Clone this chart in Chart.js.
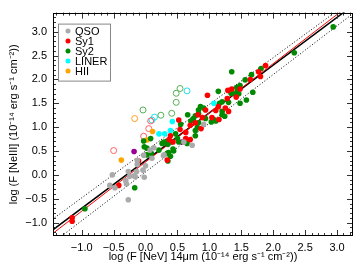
<!DOCTYPE html>
<html>
<head>
<meta charset="utf-8">
<script src="https://cdn.jsdelivr.net/npm/chart.js@4"></script>
<style>
html, body { margin: 0; padding: 0; background: #fff; }
</style>
</head>
<body>
<canvas id="myChart" width="357" height="267"></canvas>
<script>
// tick labels
const xTicks = [-1.0, -0.5, 0.0, 0.5, 1.0, 1.5, 2.0, 2.5, 3.0];
const yTicks = [-1.0, -0.5, 0.0, 0.5, 1.0, 1.5, 2.0, 2.5, 3.0];

// filled points [logF NeV, logF NeIII]
const qso = [[-0.52, 0.00], [-0.27, 0.07], [-0.18, -0.02], [-0.56, -0.22], [-0.48, -0.27], [-0.30, -0.19],
  [-0.31, -0.12], [-0.25, -0.03], [-0.27, -0.52], [0.13, 0.57], [0.29, 0.42], [-0.03, 0.41], [-0.13, 0.30],
  [0.00, 0.19], [-0.04, 0.10], [-0.14, 0.07], [-0.02, -0.05], [0.07, 0.52], [0.10, 0.35], [-0.13, 0.22],
  [0.28, 0.40], [0.60, 0.69], [0.73, 0.62], [0.91, 1.06], [-0.16, -0.04]];
const sy1 = [[-1.15, -0.90], [-1.15, -0.97], [-0.42, -0.22], [-0.11, 0.29], [0.34, 0.31], [0.52, 1.15],
  [0.39, 0.82], [0.54, 0.95], [0.63, 0.89], [0.70, 1.04], [0.78, 1.09], [0.37, 0.74], [0.43, 0.69],
  [0.63, 0.76], [0.70, 0.74], [0.82, 1.26], [0.89, 1.20], [1.04, 1.20], [1.15, 1.16], [1.30, 1.33],
  [0.87, 0.97], [0.94, 1.36], [1.10, 1.35], [1.14, 1.43], [1.25, 1.40], [1.28, 1.60], [1.42, 1.63],
  [1.29, 1.77], [1.35, 1.80], [0.97, 1.67], [1.64, 2.00], [1.48, 1.80], [1.77, 2.16], [1.80, 2.06], [1.88, 2.29]];
const sy2 = [[-0.95, -0.71], [-0.17, -0.27], [0.66, 1.26], [0.75, 1.18], [0.78, 1.24], [0.83, 1.28],
  [0.47, 0.86], [0.55, 1.06], [0.71, 1.13], [0.81, 0.99], [-0.03, 0.71], [0.08, 0.76], [0.26, 0.66],
  [0.29, 0.69], [0.34, 0.71], [0.35, 0.64], [0.40, 0.69], [0.50, 0.76], [0.52, 0.69], [0.65, 0.66],
  [0.02, 0.56], [0.21, 0.52], [0.36, 0.47], [0.44, 0.50], [0.39, 0.39], [0.09, 0.45], [0.35, 0.29],
  [-0.02, 0.59], [0.02, 0.42], [0.34, 0.45], [0.43, 0.54], [1.35, 2.16], [1.81, 2.23], [1.66, 2.10],
  [1.56, 1.99], [1.68, 1.73], [1.48, 1.87], [1.14, 1.75], [1.34, 1.71], [1.40, 1.70], [1.43, 1.73],
  [1.46, 1.70], [1.20, 1.53], [1.16, 1.50], [1.30, 1.52], [1.58, 1.57], [1.48, 1.50], [0.86, 1.43],
  [0.91, 1.40], [0.83, 1.36], [1.20, 1.33], [0.94, 1.18], [1.07, 1.16], [1.10, 1.13], [1.03, 1.11],
  [1.20, 1.26], [1.24, 1.23], [0.83, 1.09], [0.78, 0.93], [0.78, 0.82], [2.94, 3.10], [2.33, 2.56], [1.43, 1.83]];
const liner = [[0.42, 1.12], [0.21, 0.86], [0.30, 0.86], [0.39, 0.93], [1.07, 1.50]];
const hii = [[-0.38, 0.31], [0.11, 0.91], [0.02, 0.73]];
const other = [[-0.18, 0.49], [0.57, 0.69]];

// open symbols
const sy1Open = [[-0.50, 0.51], [0.08, 1.13], [0.05, 0.97], [-0.03, 0.81]];
const sy2Open = [[-0.04, 1.36], [0.24, 1.25], [0.41, 1.29], [0.48, 1.52], [0.48, 1.71], [0.54, 1.81]];
const linerOpen = [[0.14, 1.21], [0.65, 1.76], [0.10, 1.15]];
const hiiOpen = [[-0.17, 1.18]];

// fit lines (end points)
const fitBlack = [[-1.5, -1.20], [3.3, 3.60]];
const fitRed = [[-1.5, -1.275], [3.3, 3.67]];
const bandUp = [[-1.5, -0.97], [3.3, 3.73]];
const bandLow = [[-1.5, -1.47], [3.3, 3.43]];

const legendLabels = ['QSO', 'Sy1', 'Sy2', 'LINER', 'HII'];
const legendColors = ['#aaaaaa', '#ff0000', '#008a00', '#00ffff', '#ffa500'];

const FONT = '"Liberation Sans", Arial, Helvetica, sans-serif';
const toXY = arr => arr.map(p => ({x: p[0], y: p[1]}));
const fmt = v => v.toFixed(1).replace('-', '\u2212');

const pts = (data, color) => ({
    data: toXY(data), backgroundColor: color, borderColor: color, borderWidth: 0,
    pointRadius: 2.8, pointHoverRadius: 2.8
});
const openPts = (data, color) => ({
    data: toXY(data), backgroundColor: 'rgba(0,0,0,0)', borderColor: color, borderWidth: 1,
    pointRadius: 3, pointHoverRadius: 3
});
const line = (data, color, width, dash) => ({
    data: toXY(data), showLine: true, borderColor: color, borderWidth: width,
    borderDash: dash, pointRadius: 0, fill: false
});

const frameTicks = {
    id: 'frameTicks',
    afterDatasetsDraw(chart) {
        const {ctx, chartArea: a, scales: {x, y}} = chart;
        ctx.save();
        ctx.strokeStyle = '#333';
        ctx.lineWidth = 1;
        ctx.beginPath();
        for (let i = -15; i <= 33; i++) {
            const len = i % 5 === 0 ? 6 : 3;
            const px = Math.round(x.getPixelForValue(i / 10)) + 0.5;
            if (px > a.left + 1 && px < a.right - 1) {
                ctx.moveTo(px, a.bottom); ctx.lineTo(px, a.bottom - len);
                ctx.moveTo(px, a.top); ctx.lineTo(px, a.top + len);
            }
            const py = Math.round(y.getPixelForValue(i / 10)) + 0.5;
            if (py > a.top + 1 && py < a.bottom - 1) {
                ctx.moveTo(a.left, py); ctx.lineTo(a.left + len, py);
                ctx.moveTo(a.right, py); ctx.lineTo(a.right - len, py);
            }
        }
        ctx.stroke();
        ctx.strokeStyle = '#000';
        ctx.strokeRect(Math.round(a.left) + 0.5, Math.round(a.top) + 0.5,
            Math.round(a.right - a.left) - 1, Math.round(a.bottom - a.top) - 1);
        ctx.restore();
    },
    afterDraw(chart) {
        const {ctx, chartArea: a} = chart;
        const bx = a.left + 5, by = a.top + 11;
        ctx.save();
        ctx.fillStyle = '#fff';
        ctx.fillRect(bx, by, 52, 57);
        ctx.strokeStyle = '#888';
        ctx.lineWidth = 1;
        ctx.strokeRect(bx + 0.5, by + 0.5, 52, 57);
        ctx.font = '11px ' + FONT;
        ctx.textBaseline = 'middle';
        legendLabels.forEach((lab, i) => {
            const cy = by + 7.5 + i * 10;
            ctx.fillStyle = legendColors[i];
            ctx.beginPath();
            ctx.arc(bx + 10, cy, 2.5, 0, Math.PI * 2);
            ctx.fill();
            ctx.fillStyle = '#000';
            ctx.fillText(lab, bx + 17, cy + 0.5);
        });
        ctx.restore();
    }
};

const ctx = document.getElementById('myChart').getContext('2d');
const myChart = new Chart(ctx, {
    type: 'scatter',
    data: {
        datasets: [
            pts(qso, '#aaaaaa'),
            pts(sy1, '#ff0000'),
            pts(sy2, '#008a00'),
            pts(liner, '#00ffff'),
            pts(hii, '#ffa500'),
            pts(other, '#990099'),
            openPts(sy1Open, '#ff6060'),
            openPts(sy2Open, '#55b055'),
            openPts(linerOpen, '#22ddee'),
            openPts(hiiOpen, '#ffa020'),
            line(fitRed, '#ff0000', 1, []),
            line(fitBlack, '#000000', 1.5, []),
            line(bandUp, '#000000', 1, [1, 2]),
            line(bandLow, '#000000', 1, [1, 2])
        ]
    },
    options: {
        responsive: false,
        devicePixelRatio: 1,
        animation: false,
        layout: { padding: { top: 4, right: 4, left: 0, bottom: 0 } },
        plugins: { legend: { display: false }, tooltip: { enabled: false } },
        scales: {
            x: {
                type: 'linear', min: -1.45, max: 3.25,
                grid: { display: false, drawTicks: false },
                border: { display: false },
                afterBuildTicks: s => { s.ticks = xTicks.map(v => ({value: v})); },
                afterFit: s => { s.height = 31; },
                ticks: { color: '#000', padding: 5, font: { family: FONT, size: 11 }, callback: v => fmt(v), maxRotation: 0, autoSkip: false },
                title: {
                    display: true, color: '#000', font: { family: FONT, size: 11 }, padding: { top: 0, bottom: 3 },
                    text: 'log (F [NeV] 14\u03bcm (10\u207b\u00b9\u2074 erg s\u207b\u00b9 cm\u207b\u00b2))'
                }
            },
            y: {
                type: 'linear', min: -1.28, max: 3.4,
                grid: { display: false, drawTicks: false },
                border: { display: false },
                afterBuildTicks: s => { s.ticks = yTicks.map(v => ({value: v})); },
                afterFit: s => { s.width = 53; },
                ticks: { color: '#000', padding: 6, font: { family: FONT, size: 11 }, callback: v => fmt(v), autoSkip: false },
                title: {
                    display: true, color: '#000', font: { family: FONT, size: 11 }, padding: { top: 7, bottom: 0 },
                    text: 'log (F [NeIII] (10\u207b\u00b9\u2074 erg s\u207b\u00b9 cm\u207b\u00b2))'
                }
            }
        }
    },
    plugins: [frameTicks]
});
</script>
</body>
</html>
